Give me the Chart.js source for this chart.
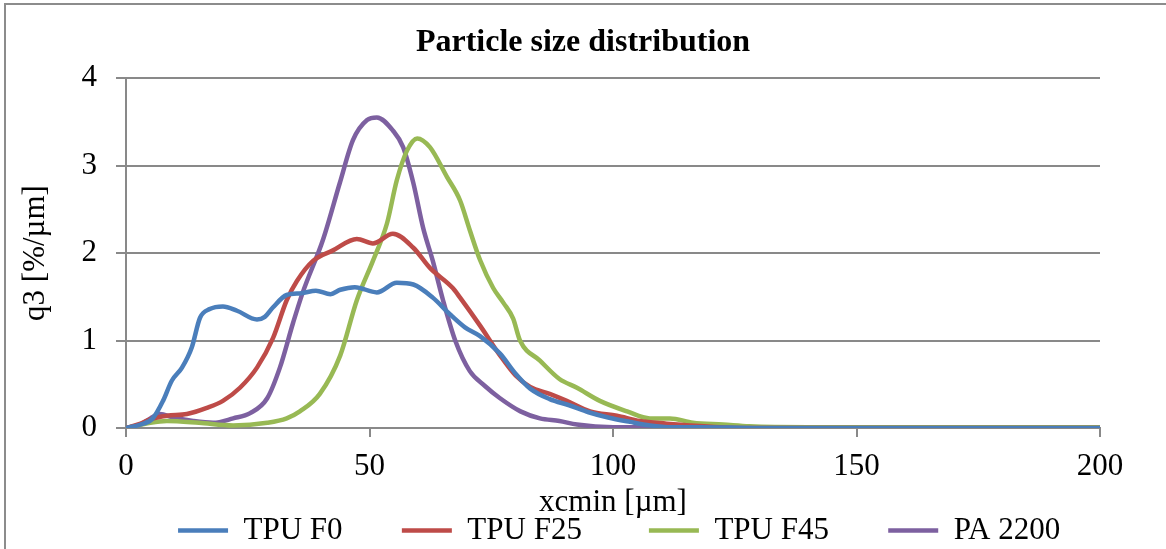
<!DOCTYPE html>
<html>
<head>
<meta charset="utf-8">
<script src="https://cdn.jsdelivr.net/npm/chart.js@4.4.1/dist/chart.umd.min.js"></script>
<style>
  html, body { margin: 0; padding: 0; background: #fff; }
  #wrap { position: relative; width: 1166px; height: 549px; }
</style>
</head>
<body>
<div id="wrap"><canvas id="psdChart" width="1166" height="549"></canvas></div>
<script>
// series
const seriesNames = ['TPU F0', 'TPU F25', 'TPU F45', 'PA 2200'];
const seriesColors = ['#4a7ebb', '#be4b48', '#98b954', '#7d60a0'];

const f0X = [0, 3, 5.5, 7.6, 9.4, 11.5, 13.5, 15.2, 17.2, 19.9, 22.8, 26.9, 28.5, 30.2, 33, 36, 39, 42, 44, 47, 51.5, 55.6, 59, 63, 66.5, 69.6, 72.7, 76.8, 80, 83, 87, 91, 95, 99, 103.5, 107.6, 112, 118, 130, 200];
const f0Y = [0, 0.04, 0.11, 0.31, 0.54, 0.69, 0.92, 1.26, 1.36, 1.39, 1.34, 1.24, 1.27, 1.38, 1.52, 1.54, 1.57, 1.53, 1.58, 1.61, 1.55, 1.66, 1.64, 1.49, 1.3, 1.15, 1.05, 0.85, 0.62, 0.45, 0.33, 0.26, 0.18, 0.12, 0.07, 0.03, 0.01, 0.01, 0, 0];

const f25X = [0, 3, 5, 8.4, 12.5, 16.6, 19.9, 23.4, 26.9, 30.2, 33, 35.1, 38.4, 42.5, 47.4, 50.7, 54.8, 59, 62.4, 67.1, 68.6, 72.7, 76.8, 80, 83, 87, 90.5, 95.3, 100.8, 105.5, 111, 115.8, 122, 130, 200];
const f25Y = [0, 0.05, 0.1, 0.14, 0.16, 0.23, 0.31, 0.46, 0.69, 1.03, 1.46, 1.68, 1.91, 2.03, 2.16, 2.11, 2.22, 2.06, 1.83, 1.6, 1.49, 1.17, 0.83, 0.6, 0.47, 0.39, 0.31, 0.19, 0.14, 0.08, 0.05, 0.03, 0.01, 0, 0];

const f45X = [0, 5, 8.4, 15, 22, 29, 33, 35.7, 39.8, 44, 47.4, 50.7, 53.6, 55.6, 57.7, 59.8, 62.4, 65.9, 68.6, 70.6, 72.7, 75.4, 77.5, 79.5, 80.9, 85, 89, 92.6, 97.3, 102.9, 107.6, 111.7, 116.4, 122.6, 128, 140, 200];
const f45Y = [0, 0.06, 0.08, 0.06, 0.03, 0.06, 0.11, 0.19, 0.39, 0.83, 1.46, 1.91, 2.34, 2.83, 3.17, 3.31, 3.21, 2.87, 2.6, 2.26, 1.92, 1.6, 1.43, 1.25, 1.0, 0.77, 0.56, 0.46, 0.31, 0.19, 0.11, 0.11, 0.06, 0.04, 0.02, 0.01, 0.01];

const paX = [0, 3, 5, 7, 9.6, 13.8, 17.9, 22, 25.5, 29, 31.6, 34.3, 36.3, 40.5, 43.9, 46.6, 49.5, 51.5, 54.8, 56.9, 59, 61, 63, 65.1, 67.6, 70.6, 73.7, 76.8, 81, 85, 89, 92.6, 100, 200];
const paY = [0, 0.04, 0.11, 0.16, 0.12, 0.08, 0.06, 0.11, 0.17, 0.34, 0.69, 1.2, 1.55, 2.16, 2.8, 3.29, 3.52, 3.55, 3.4, 3.21, 2.8, 2.29, 1.91, 1.46, 1.0, 0.65, 0.48, 0.34, 0.19, 0.11, 0.08, 0.04, 0.01, 0];

const xTicks = [0, 50, 100, 150, 200];
const yTicks = [0, 1, 2, 3, 4];

// trailing no-break spaces per legend entry, to spread the entries like the original
const legendGaps = [7, 8, 7, 13];

const serif = 'Liberation Serif, Times New Roman, serif';
const gridGray = '#898989';
const fontPx = 31;

function toPoints(xs, ys) {
    return xs.map((x, i) => ({ x: x, y: ys[i] }));
}

const allX = [f0X, f25X, f45X, paX];
const allY = [f0Y, f25Y, f45Y, paY];

// outer frame like the exported chart box (only left and top visible)
const framePlugin = {
    id: 'frame',
    afterInit(chart) {
        // trim some of the extra space chart.js adds under the legend
        const lg = chart.legend;
        if (lg) {
            const fit = lg.fit;
            lg.fit = function() { fit.call(this); this.height -= 7; };
        }
    },
    beforeDraw(chart) {
        const c = chart.ctx;
        c.save();
        c.strokeStyle = '#8c8c8c';
        c.lineWidth = 2;
        c.beginPath();
        c.moveTo(5, 549);
        c.lineTo(5, 4);
        c.lineTo(1166, 4);
        c.stroke();
        c.restore();
    }
};

const ctx = document.getElementById('psdChart').getContext('2d');
const psdChart = new Chart(ctx, {
    type: 'line',
    data: {
        datasets: seriesNames.map((name, i) => ({
            label: name,
            data: toPoints(allX[i], allY[i]),
            borderColor: seriesColors[i],
            backgroundColor: seriesColors[i],
            borderWidth: 4.5,
            pointRadius: 0,
            cubicInterpolationMode: 'monotone',
            borderCapStyle: 'round',
            borderJoinStyle: 'round'
        }))
    },
    options: {
        responsive: false,
        animation: false,
        layout: { padding: 0 },
        scales: {
            x: {
                type: 'linear',
                min: 0,
                max: 200,
                afterBuildTicks(scale) { scale.ticks = xTicks.map(v => ({ value: v })); },
                afterFit(scale) { scale.height = 82; },
                grid: { drawOnChartArea: false, drawTicks: true, tickLength: 9, color: gridGray, lineWidth: 2 },
                border: { display: true, color: gridGray, width: 2 },
                ticks: { color: '#000', font: { family: serif, size: fontPx }, padding: 11, maxRotation: 0 },
                title: { display: true, text: 'xcmin [µm]', color: '#000', font: { family: serif, size: fontPx, lineHeight: 1 }, padding: { top: 0, bottom: -8 } }
            },
            y: {
                min: 0,
                max: 4,
                afterBuildTicks(scale) { scale.ticks = yTicks.map(v => ({ value: v })); },
                afterFit(scale) { scale.width = 126; },
                grid: { drawTicks: true, tickLength: 10, color: gridGray, lineWidth: 2 },
                border: { display: true, color: gridGray, width: 2 },
                ticks: { color: '#000', font: { family: serif, size: fontPx }, padding: 19 },
                title: { display: true, text: 'q3 [%/µm]', color: '#000', font: { family: serif, size: fontPx, lineHeight: 1 }, padding: { top: 20, bottom: 0 } }
            },
            // empty right-hand strip so the plot stops at 200 while the title stays centred on the page
            yRight: {
                position: 'right',
                min: 0,
                max: 4,
                afterFit(scale) { scale.width = 66; },
                grid: { display: false },
                border: { display: false },
                ticks: { display: false }
            }
        },
        plugins: {
            title: {
                display: true,
                text: 'Particle size distribution',
                color: '#000',
                font: { family: serif, size: 32, weight: 'bold', lineHeight: 1 },
                padding: { top: 27, bottom: 19 }
            },
            legend: {
                position: 'bottom',
                align: 'end',
                labels: {
                    color: '#000',
                    font: { family: serif, size: fontPx },
                    usePointStyle: true,
                    pointStyle: 'line',
                    pointStyleWidth: 50,
                    padding: 5,
                    generateLabels(chart) {
                        const items = Chart.defaults.plugins.legend.labels.generateLabels(chart);
                        items.forEach((it, i) => {
                            it.text = it.text + '\u00a0'.repeat(legendGaps[i]);
                        });
                        return items;
                    }
                }
            },
            tooltip: { enabled: false }
        }
    },
    plugins: [framePlugin]
});
</script>
</body>
</html>
